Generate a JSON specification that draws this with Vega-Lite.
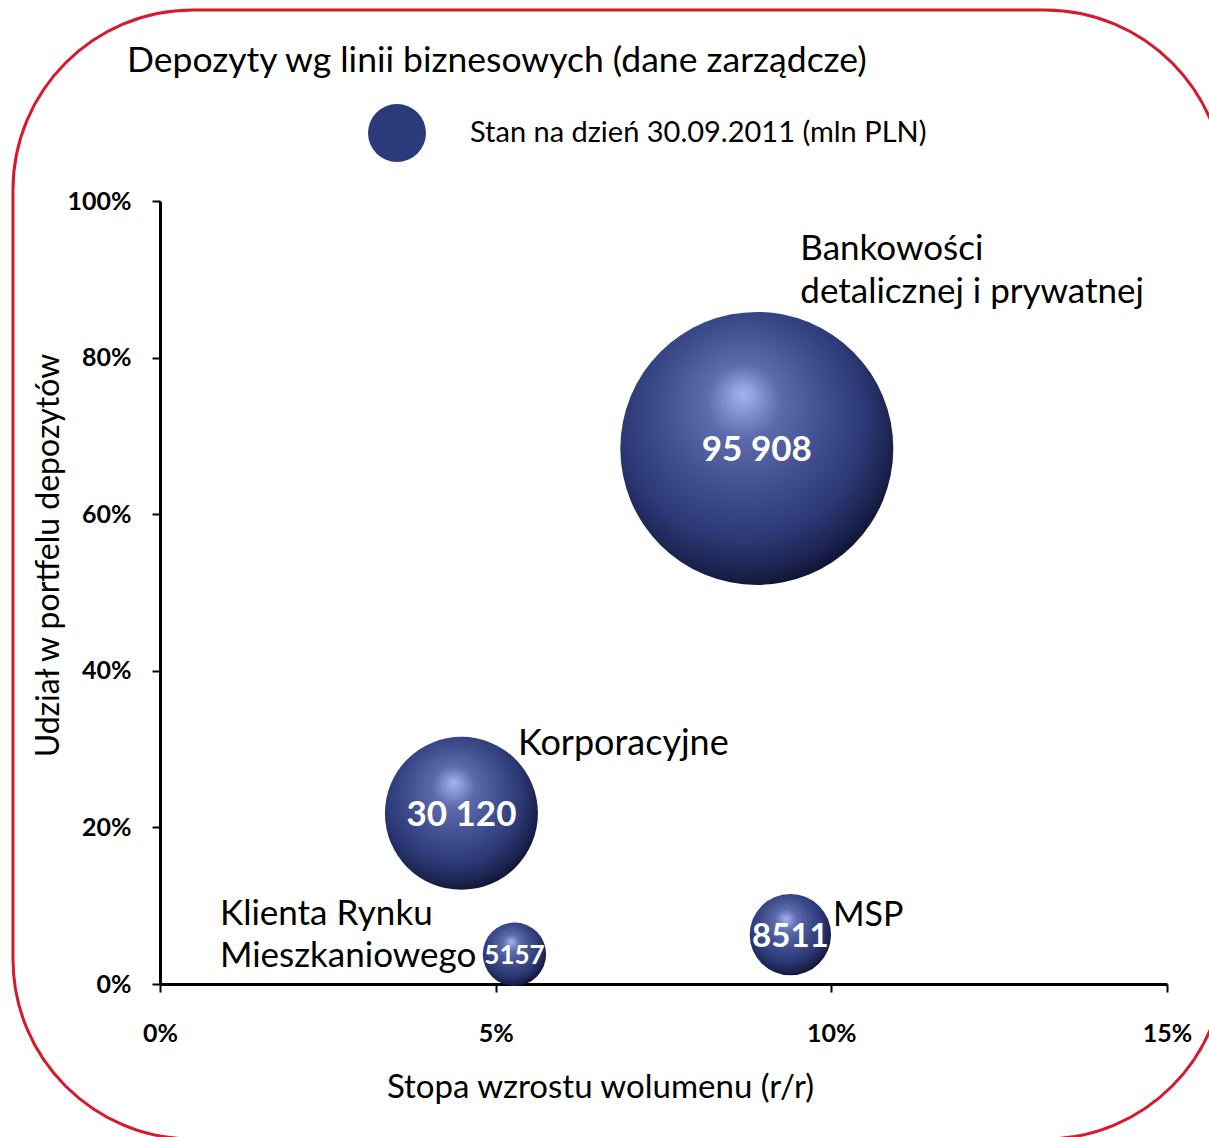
{
  "$schema": "https://vega.github.io/schema/vega-lite/v6.json",
  "width": 1007,
  "height": 783,
  "autosize": {"type": "none"},
  "padding": {"left": 160, "top": 201, "right": 42, "bottom": 153},
  "background": "#ffffff",
  "title": {
    "text": "Depozyty wg linii biznesowych (dane zarządcze)",
    "anchor": "start",
    "frame": "group",
    "dx": -33,
    "offset": -99,
    "baseline": "alphabetic",
    "font": "Lato",
    "fontSize": 35.5,
    "fontWeight": "normal",
    "color": "#000000"
  },
  "data": {
    "values": [
      {"linia": "Bankowości\ndetalicznej i prywatnej", "wzrost": 0.0889, "udzial": 0.684, "wartosc": 95908, "etykieta": "95 908"},
      {"linia": "Korporacyjne", "wzrost": 0.0449, "udzial": 0.218, "wartosc": 30120, "etykieta": "30 120"},
      {"linia": "Klienta Rynku\nMieszkaniowego", "wzrost": 0.0528, "udzial": 0.038, "wartosc": 5157, "etykieta": "5157"},
      {"linia": "MSP", "wzrost": 0.0939, "udzial": 0.063, "wartosc": 8511, "etykieta": "8511"}
    ]
  },
  "layer": [
    {
      "data": {"values": [{}]},
      "mark": {"type": "rect", "filled": false, "stroke": "#d6192b", "strokeWidth": 3, "cornerRadius": 180, "clip": false},
      "encoding": {
        "x": {"datum": -0.0219, "type": "quantitative"},
        "x2": {"datum": 0.1586},
        "y": {"datum": 1.2439, "type": "quantitative"},
        "y2": {"datum": -0.198}
      }
    },
    {
      "transform": [{"filter": "datum.wartosc == 95908"}],
      "mark": {"type": "circle", "size": 20, "opacity": 1},
      "encoding": {
        "x": {"field": "wzrost", "type": "quantitative"},
        "y": {"field": "udzial", "type": "quantitative"},
        "color": {
          "datum": "Stan na dzień 30.09.2011 (mln PLN)",
          "type": "nominal",
          "scale": {"range": ["#2a3a7b"]},
          "legend": {
            "orient": "none",
            "legendX": 208,
            "legendY": -97,
            "title": null,
            "padding": 0,
            "symbolType": "circle",
            "symbolSize": 3364,
            "symbolStrokeWidth": 0,
            "symbolOpacity": 1,
            "labelFont": "Lato",
            "labelFontSize": 29,
            "labelColor": "#000000",
            "labelOffset": 44,
            "labelLimit": 0
          }
        }
      }
    },
    {
      "mark": {
        "type": "circle",
        "opacity": 1,
        "fill": {
          "gradient": "radial",
          "x1": 0.45, "y1": 0.3, "r1": 0,
          "x2": 0.45, "y2": 0.42, "r2": 0.62,
          "stops": [
            {"offset": 0, "color": "#a4b3f0"},
            {"offset": 0.22, "color": "#5b6bab"},
            {"offset": 0.5, "color": "#3e4d8d"},
            {"offset": 0.72, "color": "#2c3976"},
            {"offset": 0.88, "color": "#1b2350"},
            {"offset": 1, "color": "#0b0f2a"}
          ]
        }
      },
      "encoding": {
        "x": {
          "field": "wzrost",
          "type": "quantitative",
          "scale": {"domain": [0, 0.15], "nice": false, "zero": true},
          "axis": {
            "title": "Stopa wzrostu wolumenu (r/r)",
            "values": [0, 0.05, 0.1, 0.15],
            "format": ".0%",
            "grid": false,
            "domainColor": "#000000",
            "domainWidth": 3,
            "tickColor": "#000000",
            "tickWidth": 2,
            "tickSize": 8,
            "labelFont": "Lato",
            "labelFontWeight": "bold",
            "labelFontSize": 25,
            "labelColor": "#000000",
            "labelPadding": 29,
            "labelFlush": false,
            "labelOverlap": false,
            "titleFont": "Lato",
            "titleFontSize": 33,
            "titleFontWeight": "normal",
            "titleColor": "#000000",
            "titleX": 440,
            "titleY": 103,
            "titleAlign": "center",
            "titleBaseline": "middle"
          }
        },
        "y": {
          "field": "udzial",
          "type": "quantitative",
          "scale": {"domain": [0, 1], "nice": false, "zero": true},
          "axis": {
            "title": "Udział w portfelu depozytów",
            "values": [0, 0.2, 0.4, 0.6, 0.8, 1],
            "format": ".0%",
            "grid": false,
            "domainColor": "#000000",
            "domainWidth": 3,
            "tickColor": "#000000",
            "tickWidth": 2,
            "tickSize": 8,
            "labelFont": "Lato",
            "labelFontWeight": "bold",
            "labelFontSize": 25,
            "labelColor": "#000000",
            "labelPadding": 21,
            "labelFlush": false,
            "labelOverlap": false,
            "titleFont": "Lato",
            "titleFontSize": 32,
            "titleFontWeight": "normal",
            "titleColor": "#000000",
            "titleX": -112,
            "titleY": 354,
            "titleAngle": 270,
            "titleAlign": "center",
            "titleBaseline": "middle"
          }
        },
        "size": {
          "field": "wartosc",
          "type": "quantitative",
          "scale": {"domain": [0, 95908], "range": [0, 74529], "zero": true},
          "legend": null
        }
      }
    },
    {
      "mark": {"type": "text", "font": "Lato", "fontWeight": "bold", "color": "#ffffff", "align": "center", "baseline": "middle", "dy": 2},
      "encoding": {
        "x": {"field": "wzrost", "type": "quantitative"},
        "y": {"field": "udzial", "type": "quantitative"},
        "text": {"field": "etykieta"},
        "size": {
          "condition": [
            {"test": "datum.wartosc < 6000", "value": 26},
            {"test": "datum.wartosc < 10000", "value": 33}
          ],
          "value": 35
        }
      }
    },
    {
      "transform": [{"filter": "datum.wartosc == 95908"}],
      "mark": {"type": "text", "font": "Lato", "fontSize": 35, "color": "#000000", "align": "left", "baseline": "top", "lineBreak": "\n", "lineHeight": 43, "dx": 43.5, "dy": -216},
      "encoding": {
        "x": {"field": "wzrost", "type": "quantitative"},
        "y": {"field": "udzial", "type": "quantitative"},
        "text": {"field": "linia"}
      }
    },
    {
      "transform": [{"filter": "datum.wartosc == 30120"}],
      "mark": {"type": "text", "font": "Lato", "fontSize": 36, "color": "#000000", "align": "left", "baseline": "alphabetic", "dx": 56.5, "dy": -58.5},
      "encoding": {
        "x": {"field": "wzrost", "type": "quantitative"},
        "y": {"field": "udzial", "type": "quantitative"},
        "text": {"field": "linia"}
      }
    },
    {
      "transform": [{"filter": "datum.wartosc == 5157"}],
      "mark": {"type": "text", "font": "Lato", "fontSize": 35, "color": "#000000", "align": "left", "baseline": "top", "lineBreak": "\n", "lineHeight": 42, "dx": -294.5, "dy": -57},
      "encoding": {
        "x": {"field": "wzrost", "type": "quantitative"},
        "y": {"field": "udzial", "type": "quantitative"},
        "text": {"field": "linia"}
      }
    },
    {
      "transform": [{"filter": "datum.wartosc == 8511"}],
      "mark": {"type": "text", "font": "Lato", "fontSize": 34, "color": "#000000", "align": "left", "baseline": "alphabetic", "dx": 42.5, "dy": -9},
      "encoding": {
        "x": {"field": "wzrost", "type": "quantitative"},
        "y": {"field": "udzial", "type": "quantitative"},
        "text": {"field": "linia"}
      }
    }
  ],
  "config": {
    "view": {"stroke": null}
  }
}
